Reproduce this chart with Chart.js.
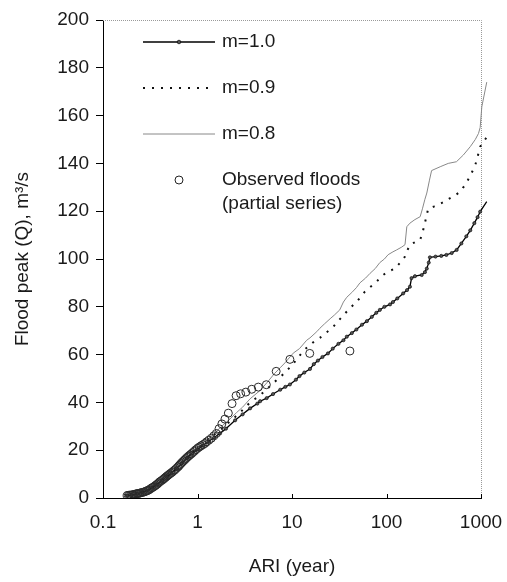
<!DOCTYPE html>
<html><head><meta charset="utf-8">
<script src="https://cdn.jsdelivr.net/npm/chart.js@4.4.1/dist/chart.umd.min.js"></script>
<style>html,body{margin:0;padding:0;background:#fff}canvas{display:block}</style>
</head><body>
<canvas id="c" width="507" height="582"></canvas>
<script>
// ---- tick labels / titles ----
const xTicks = [0.1, 1, 10, 100, 1000];
const yTicks = [0, 20, 40, 60, 80, 100, 120, 140, 160, 180, 200];
const xTitle = 'ARI (year)';
const yTitle = 'Flood peak (Q), m\u00B3/s';
const seriesNames = ['m=1.0', 'm=0.9', 'm=0.8'];
const obsNames = ['Observed floods', '(partial series)'];

// ---- m = 1.0 ----
const m10Ari = [0.18,0.2,0.23,0.26,0.29,0.33,0.37,0.42,0.47,0.53,0.6,0.68,0.77,0.87,1.0,1.15,1.3,1.5,1.73,2.0,2.5,3.0,3.6,4.3,4.6,5.4,6.3,7.5,8.5,9.5,11,12,13.5,15.5,17,18.8,21,24,27,31,35,38,43,48,55,62,70,78,85,95,109,117,130,150,165,177,184,200,236,255,267,280,288,330,380,430,490,553,620,700,770,850,920,980,1150];
const m10Q   = [1.0,1.3,1.8,2.4,3.0,4.3,5.6,7.3,8.9,10.5,12.3,14.5,16.7,18.5,20.3,22.0,23.5,25.3,27.0,29.0,32.5,35.0,37.5,39.5,40.5,41.8,43.5,45.3,46.5,47.5,49.5,51.0,52.5,54.0,56.0,57.5,59.0,60.5,62.5,64.5,66.0,67.5,69.0,70.5,72.5,74.0,75.8,77.5,78.7,80.0,81.0,82.0,83.5,85.6,87.0,88.4,92.0,92.8,93.3,94.5,96.0,98.5,100.7,101.0,101.3,101.7,102.5,103.8,106.5,109.5,112.0,115.0,117.5,119.8,124.0];

// ---- m = 0.9 ----
const m09Ari = [0.18,0.22,0.26,0.3,0.35,0.4,0.47,0.55,0.65,0.78,0.9,1.0,1.2,1.5,1.8,2.2,2.6,3.0,3.6,4.6,5.5,6.5,7.5,8.4,10,12,13.5,15.5,17.5,19.7,23,26.5,30.5,35,41,48,53,59,66,75,83,92,105,123,140,157,168,177,200,227,244,260,276,320,366,420,467,530,597,650,700,770,860,920,980,1150];
const m09Q   = [1.0,1.6,2.4,3.2,5.0,6.5,8.8,11.0,13.5,16.8,19.0,20.5,23.2,26.5,29.0,32.0,34.5,36.8,40.0,43.0,45.8,48.5,50.5,52.5,55.5,59.5,62.0,64.0,65.8,67.0,69.2,71.0,73.8,76.5,79.4,82.0,84.0,86.3,88.0,89.8,91.5,93.3,94.8,96.0,98.5,101.0,104.0,106.0,107.0,108.0,112.0,116.5,121.0,122.0,123.0,124.2,125.4,126.6,128.0,130.0,131.7,135.0,138.6,142.8,147.0,151.0];

// ---- m = 0.8 ----
const m08Ari = [0.18,0.22,0.26,0.3,0.35,0.4,0.47,0.55,0.65,0.78,0.9,1.0,1.2,1.5,1.8,2.2,2.6,3.0,3.6,4.6,5.5,6.5,7.5,8.4,10.3,12,14.3,15.5,18.3,19.7,22,25.3,28,32,35,38,43,48,52.3,60,67,76,85,95,104,117,128,145,157,164,177,200,227,240,255,267,285,300,370,450,550,650,770,870,940,980,1020,1150];
const m08Q   = [1.0,1.6,2.4,3.3,5.1,6.6,9.0,11.2,13.8,17.0,19.2,20.7,23.6,27.0,30.0,33.0,35.8,38.0,41.5,45.0,48.5,52.0,54.5,56.5,60.6,62.5,66.0,67.0,69.6,71.0,72.8,75.0,76.5,78.7,82.0,84.0,86.0,88.0,90.0,92.0,94.0,96.0,98.5,100.0,101.8,103.0,103.8,105.0,106.0,113.5,115.0,116.5,117.7,121.0,125.0,127.6,133.0,137.0,138.6,140.0,140.7,143.5,147.0,150.0,152.5,155.0,163.7,174.0];

// ---- observed floods (partial series) ----
const obsAri = [41,15.4,9.5,6.8,5.35,4.4,3.75,3.25,2.86,2.56,2.32,2.12,1.95,1.81,1.69,1.58,1.49,1.40,1.32,1.25,1.194,1.139,1.088,1.042,1.0,0.961,0.925,0.891,0.861,0.831,0.804,0.778,0.754,0.732,0.711,0.691,0.672,0.654,0.637,0.621,0.598,0.577,0.557,0.539,0.522,0.506,0.491,0.477,0.464,0.451,0.439,0.427,0.413,0.399,0.387,0.375,0.363,0.353,0.341,0.330,0.319,0.309,0.300,0.291,0.283,0.275,0.266,0.257,0.249,0.242,0.235,0.229,0.222,0.215,0.208,0.202,0.196,0.190,0.185,0.180];
const obsQ   = [61.5,60.5,58,53,47.4,46.4,45.5,44.3,43.6,42.8,39.5,35.5,33,31,29,27,26,25,24.2,23.5,22.8,22.3,21.8,21.3,20.8,20.2,19.6,19.0,18.5,18.0,17.5,17.0,16.5,16.0,15.5,15.0,14.5,14.0,13.5,13.0,12.4,11.8,11.3,10.8,10.4,10.0,9.6,9.2,8.8,8.4,8.0,7.6,7.2,6.8,6.3,5.8,5.4,5.0,4.6,4.3,3.9,3.5,3.2,3.0,2.8,2.6,2.4,2.3,2.1,2.0,1.9,1.8,1.7,1.5,1.4,1.3,1.2,1.2,1.1,1.0];

const pts = (xs, ys) => xs.map((x, i) => ({x, y: ys[i]}));
const FONT = '"Liberation Sans", Arial, sans-serif';
const TEXT = '#1a1a1a';

const deco = {
  id: 'deco',
  beforeDatasetsDraw(chart) {
    const {ctx, chartArea: a} = chart;
    ctx.save();
    ctx.strokeStyle = '#9a9a9a'; ctx.lineWidth = 1; ctx.setLineDash([1, 1]);
    ctx.beginPath();
    ctx.moveTo(a.left, Math.round(a.top) + 0.5);
    ctx.lineTo(Math.round(a.right) + 0.5, Math.round(a.top) + 0.5);
    ctx.lineTo(Math.round(a.right) + 0.5, a.bottom);
    ctx.stroke();
    ctx.setLineDash([]);
    ctx.strokeStyle = '#000';
    const xs = chart.scales.x;
    ctx.beginPath();
    xTicks.forEach(v => {
      const px = Math.round(xs.getPixelForValue(v)) + 0.5;
      ctx.moveTo(px, a.bottom); ctx.lineTo(px, a.bottom - 4);
    });
    ctx.stroke();
    ctx.restore();
  },
  afterDatasetsDraw(chart) {
    const {ctx, chartArea: a} = chart;
    const x0 = a.left + 40, x1 = a.left + 112, tx = a.left + 119;
    const rows = [a.top + 22, a.top + 68, a.top + 114, a.top + 160, a.top + 184];
    ctx.save();
    ctx.font = '19px ' + FONT;
    ctx.fillStyle = TEXT;
    ctx.textBaseline = 'middle';
    ctx.textAlign = 'left';
    // m=1.0
    ctx.strokeStyle = '#000'; ctx.lineWidth = 1.3;
    ctx.beginPath(); ctx.moveTo(x0, rows[0]); ctx.lineTo(x1, rows[0]); ctx.stroke();
    ctx.beginPath(); ctx.arc((x0 + x1) / 2, rows[0], 1.8, 0, Math.PI * 2);
    ctx.fillStyle = '#555'; ctx.fill(); ctx.lineWidth = 0.7; ctx.stroke();
    ctx.fillStyle = TEXT;
    ctx.fillText(seriesNames[0], tx, rows[0]);
    // m=0.9
    ctx.strokeStyle = '#111'; ctx.lineWidth = 2; ctx.setLineDash([2, 7]);
    ctx.beginPath(); ctx.moveTo(x0, rows[1]); ctx.lineTo(x1, rows[1]); ctx.stroke();
    ctx.setLineDash([]);
    ctx.fillText(seriesNames[1], tx, rows[1]);
    // m=0.8
    ctx.strokeStyle = '#888'; ctx.lineWidth = 1;
    ctx.beginPath(); ctx.moveTo(x0, rows[2]); ctx.lineTo(x1, rows[2]); ctx.stroke();
    ctx.fillText(seriesNames[2], tx, rows[2]);
    // observed
    ctx.strokeStyle = '#222'; ctx.lineWidth = 1;
    ctx.beginPath(); ctx.arc((x0 + x1) / 2, rows[3], 4, 0, Math.PI * 2); ctx.stroke();
    ctx.fillText(obsNames[0], tx, rows[3]);
    ctx.fillText(obsNames[1], tx, rows[4]);
    ctx.restore();
  }
};

new Chart(document.getElementById('c'), {
  type: 'scatter',
  data: {
    datasets: [
      { label: obsNames.join(' '), data: pts(obsAri, obsQ), showLine: false,
        pointStyle: 'circle', pointRadius: 4, pointBorderWidth: 1,
        pointBorderColor: '#2a2a2a', pointBackgroundColor: 'rgba(0,0,0,0)' },
      { label: seriesNames[0], data: pts(m10Ari, m10Q), showLine: true,
        borderColor: '#000', borderWidth: 1.3, pointRadius: 1.6,
        pointBackgroundColor: '#555', pointBorderColor: '#000', pointBorderWidth: 0.6,
        clip: {left: 2, top: 2, right: 10, bottom: 2} },
      { label: seriesNames[1], data: pts(m09Ari, m09Q), showLine: true,
        borderColor: '#111', borderWidth: 2, borderDash: [2, 7], pointRadius: 0,
        clip: {left: 2, top: 2, right: 10, bottom: 2} },
      { label: seriesNames[2], data: pts(m08Ari, m08Q), showLine: true,
        borderColor: '#888', borderWidth: 1, pointRadius: 0,
        clip: {left: 2, top: 2, right: 10, bottom: 2} }
    ]
  },
  options: {
    responsive: false,
    animation: false,
    devicePixelRatio: 1,
    events: [],
    layout: { padding: { top: 20, right: 26, left: 0, bottom: 0 } },
    plugins: { legend: { display: false }, tooltip: { enabled: false } },
    scales: {
      x: {
        type: 'logarithmic',
        afterDataLimits(s) { s.min = xTicks[0]; s.max = xTicks[xTicks.length - 1]; },
        afterBuildTicks(s) { s.ticks = xTicks.map(v => ({value: v})); },
        afterFit(s) { s.height = 84; s.paddingLeft = 0; s.paddingRight = 0; },
        grid: { display: false, drawTicks: false },
        border: { display: true, color: '#000', width: 1 },
        ticks: { color: TEXT, font: { family: FONT, size: 19 }, padding: 13,
                 maxRotation: 0, autoSkip: false,
                 callback: v => String(v) },
        title: { display: true, text: xTitle, color: TEXT,
                 font: { family: FONT, size: 19 }, padding: { top: 0, bottom: 4 } }
      },
      y: {
        type: 'linear',
        min: yTicks[0], max: yTicks[yTicks.length - 1],
        afterBuildTicks(s) { s.ticks = yTicks.map(v => ({value: v})); },
        afterFit(s) { s.width = 103; s.paddingTop = 0; s.paddingBottom = 0; },
        grid: { display: true, drawOnChartArea: false, drawTicks: true, tickLength: 7, color: '#000' },
        border: { display: true, color: '#000', width: 1 },
        ticks: { color: TEXT, font: { family: FONT, size: 19 }, padding: 7 },
        title: { display: true, text: yTitle, color: TEXT,
                 font: { family: FONT, size: 19 }, padding: { top: 11, bottom: 0 } }
      }
    }
  },
  plugins: [deco]
});
</script>
</body></html>
